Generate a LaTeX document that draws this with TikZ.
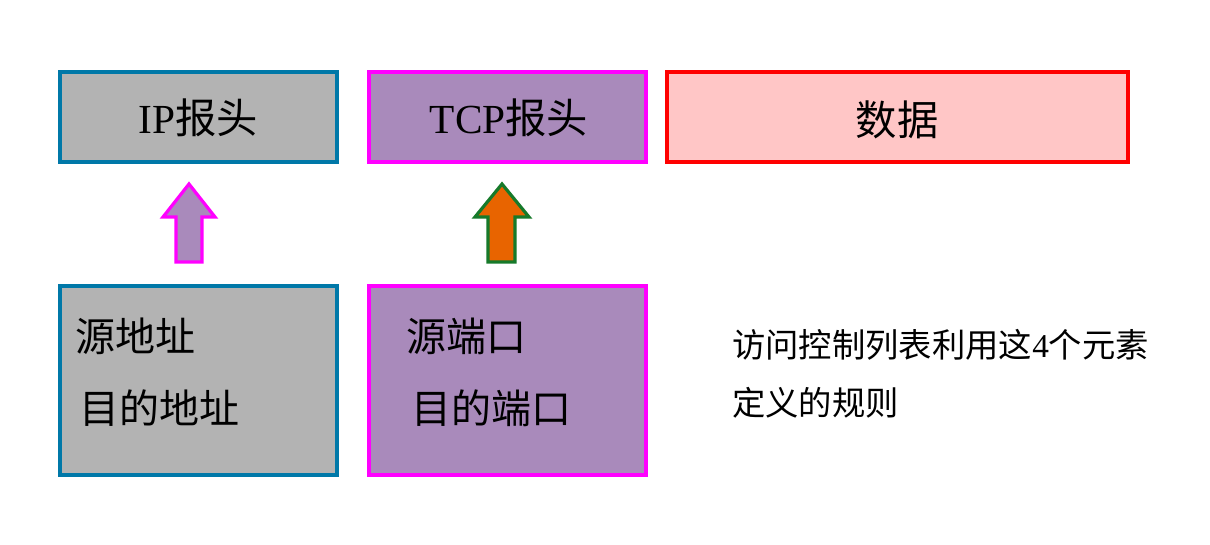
\documentclass[tikz,border=0pt]{standalone}
\usepackage{fontspec}
\setmainfont{Liberation Serif}
\newfontfamily\cjk{Noto Sans CJK SC}
\definecolor{bordblue}{HTML}{0078A8}
\definecolor{fillgray}{HTML}{B3B3B3}
\definecolor{fillpurple}{HTML}{A98ABB}
\definecolor{bordmag}{HTML}{FF00FF}
\definecolor{bordred}{HTML}{FF0000}
\definecolor{fillpink}{HTML}{FFC6C6}
\definecolor{fillorange}{HTML}{E86400}
\definecolor{bordgreen}{HTML}{167A2A}
\begin{document}
\begin{tikzpicture}[x=0.75pt,y=-0.75pt,
  box/.style={draw, line width=3pt, inner sep=0pt, outer sep=0pt},
  ipbox/.style={box, draw=bordblue, fill=fillgray},
  tcpbox/.style={box, draw=bordmag, fill=fillpurple},
  databox/.style={box, draw=bordred, fill=fillpink},
  toplabel/.style={font=\fontsize{31pt}{36pt}\selectfont, inner sep=0pt},
  inlabel/.style={font=\fontsize{30pt}{36pt}\selectfont\cjk, inner sep=0pt, anchor=west},
  note/.style={font=\fontsize{25pt}{30pt}\selectfont, inner sep=0pt, anchor=west},
  blockarrow/.style={line width=2.4pt, line join=miter}
]
\useasboundingbox (0,0) rectangle (1210,544);
% top row
\node[ipbox, minimum width=207.75pt, minimum height=67.5pt] (ip) at (198.5,117) {};
\node[tcpbox, minimum width=207.75pt, minimum height=67.5pt] (tcp) at (507.5,117) {};
\node[databox, minimum width=345.75pt, minimum height=67.5pt] (data) at (897.5,117) {};
\node[toplabel] (iplab) at (198,118) {IP{\cjk 报头}};
\node[toplabel] (tcplab) at (509,118) {TCP{\cjk 报头}};
\node[toplabel] (datalab) at (897,120) {\cjk 数据};
% bottom row
\node[ipbox, minimum width=207.75pt, minimum height=141.75pt] (addr) at (198.5,380.5) {};
\node[tcpbox, minimum width=207.75pt, minimum height=141.75pt] (port) at (507.5,380.5) {};
\node[inlabel] (src) at (75,336) {源地址};
\node[inlabel] (dst) at (79,408) {目的地址};
\node[inlabel] (sport) at (406,336) {源端口};
\node[inlabel] (dport) at (411,408) {目的端口};
% note
\node[note] (n1) at (732,345) {{\cjk 访问控制列表利用这}4{\cjk 个元素}};
\node[note] (n2) at (732,403) {\cjk 定义的规则};
% block arrows
\draw[blockarrow, draw=bordmag, fill=fillpurple]
  (189,184) -- (215,217) -- (202,217) -- (202,262) -- (176,262) -- (176,217) -- (163,217) -- cycle;
\draw[blockarrow, draw=bordgreen, fill=fillorange]
  (502,184) -- (529,217) -- (515,217) -- (515,262) -- (488,262) -- (488,217) -- (475,217) -- cycle;
\end{tikzpicture}
\end{document}
